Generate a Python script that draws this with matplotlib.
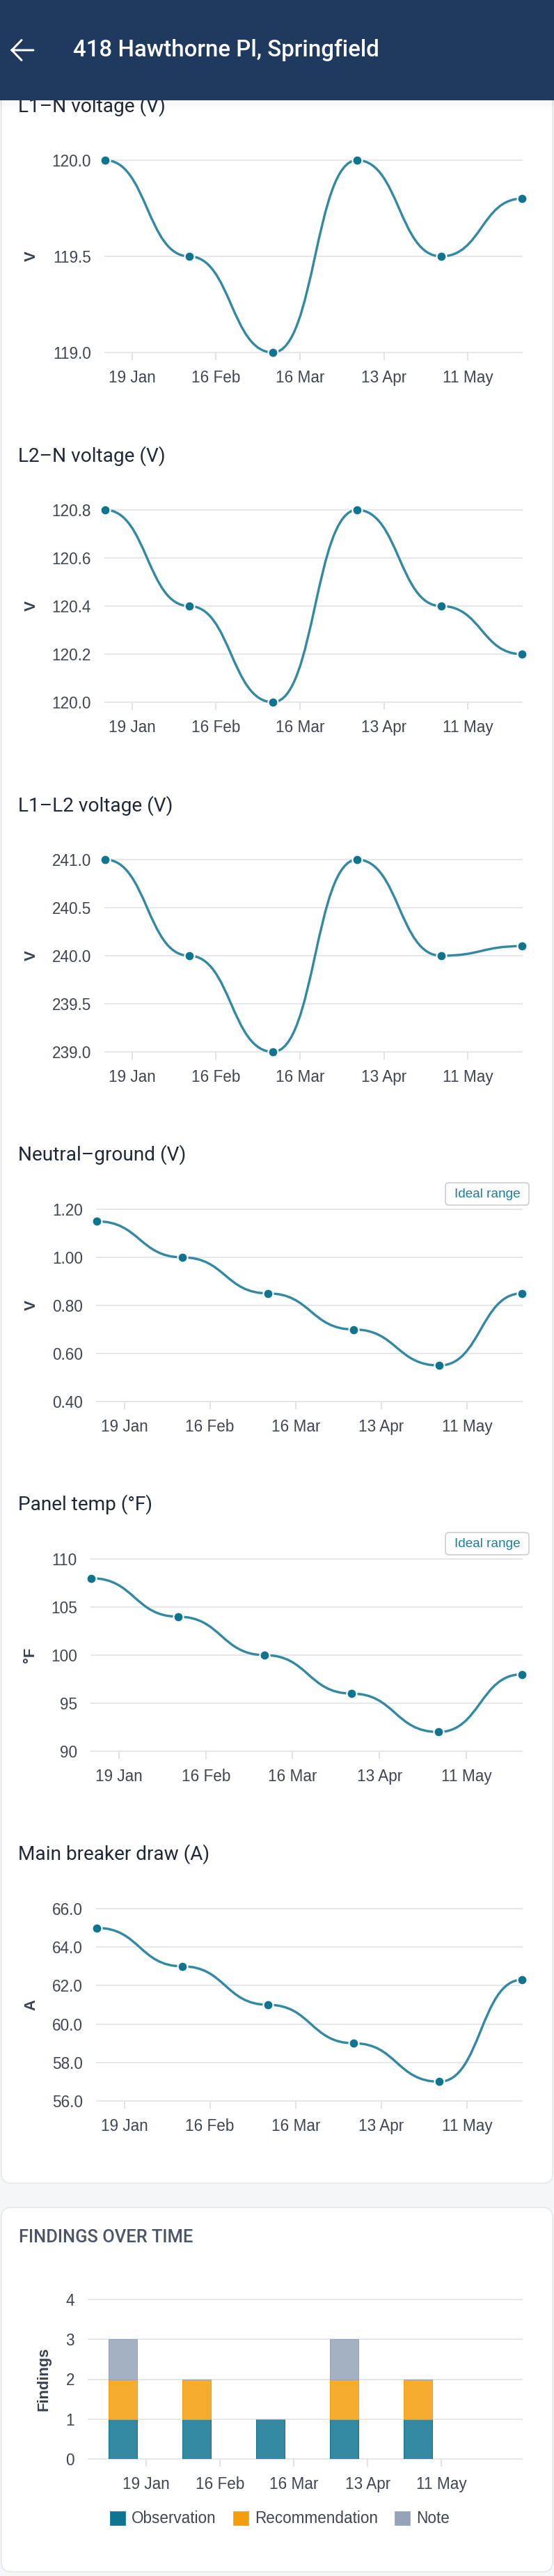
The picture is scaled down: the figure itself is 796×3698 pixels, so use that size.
import numpy as np
import matplotlib
matplotlib.use("Agg")
import matplotlib.pyplot as plt
import matplotlib.dates as mdates
from matplotlib.patches import FancyBboxPatch, Rectangle, PathPatch, Patch
from matplotlib.path import Path

# ---------------- data ----------------
dates = ["2025-01-10", "2025-02-07", "2025-03-07", "2025-04-04", "2025-05-02", "2025-05-29"]
tick_dates = ["2025-01-19", "2025-02-16", "2025-03-16", "2025-04-13", "2025-05-11"]
tick_labels = ["19 Jan", "16 Feb", "16 Mar", "13 Apr", "11 May"]

chart_titles = ["L1\u2013N voltage (V)", "L2\u2013N voltage (V)", "L1\u2013L2 voltage (V)",
                "Neutral\u2013ground (V)", "Panel temp (\u00b0F)", "Main breaker draw (A)"]
unit_labels = ["V", "V", "V", "V", "\u00b0F", "A"]

l1n = [120.0, 119.5, 119.0, 120.0, 119.5, 119.8]
l2n = [120.8, 120.4, 120.0, 120.8, 120.4, 120.2]
l1l2 = [241.0, 240.0, 239.0, 241.0, 240.0, 240.1]
neutral_ground = [1.15, 1.00, 0.85, 0.70, 0.55, 0.85]
panel_temp = [108, 104, 100, 96, 92, 98]
main_breaker = [65.0, 63.0, 61.0, 59.0, 57.0, 62.3]

yticks_l1n = [119.0, 119.5, 120.0]
yticks_l2n = [120.0, 120.2, 120.4, 120.6, 120.8]
yticks_l1l2 = [239.0, 239.5, 240.0, 240.5, 241.0]
yticks_ng = [0.40, 0.60, 0.80, 1.00, 1.20]
yticks_temp = [90, 95, 100, 105, 110]
yticks_breaker = [56.0, 58.0, 60.0, 62.0, 64.0, 66.0]

findings_series = ["Observation", "Recommendation", "Note"]
observation = [1, 1, 1, 1, 1, 0]
recommendation = [1, 1, 0, 1, 1, 0]
note = [1, 0, 0, 1, 0, 0]
yticks_findings = [0, 1, 2, 3, 4]

header_title = "418 Hawthorne Pl, Springfield"
findings_title = "FINDINGS OVER TIME"

# ---------------- style ----------------
W, H = 796, 3698
DPI = 72
PAGE_BG = "#f4f6f8"
CARD_EDGE = "#e3e6ea"
HEADER = "#1f3a5e"
LINE = "#3289a1"
MARK = "#0e7490"
GRID = "#e5e7eb"
TICKC = "#d6d9de"
TXT = "#3f4652"
TITLE = "#1f2937"
COLORS = ["#0e7490", "#f59e0b", "#94a3b8"]
FILLS = ["#3289a1", "#f6ac2f", "#a4b1c2"]

plt.rcParams["font.family"] = ["Liberation Sans", "DejaVu Sans"]
TITLE_FONT = ["Roboto", "DejaVu Sans"]

fig = plt.figure(figsize=(W / DPI, H / DPI), dpi=DPI, facecolor=PAGE_BG)

bg = fig.add_axes([0, 0, 1, 1], zorder=0)
bg.set_xlim(0, W)
bg.set_ylim(H, 0)
bg.axis("off")
bg.set_facecolor("none")


def px_axes(l, t, r, b):
    ax = fig.add_axes([l / W, 1 - b / H, (r - l) / W, (b - t) / H], zorder=2)
    ax.set_facecolor("none")
    for s in ax.spines.values():
        s.set_visible(False)
    return ax


# cards
bg.add_patch(FancyBboxPatch((2, -60), 792, 3134 + 60, boxstyle="round,pad=0,rounding_size=14",
                            fc="white", ec=CARD_EDGE, lw=1.5, zorder=1))
bg.add_patch(FancyBboxPatch((2, 3169), 792, 3692 - 3169, boxstyle="round,pad=0,rounding_size=14",
                            fc="white", ec=CARD_EDGE, lw=1.5, zorder=1))

x_dates = mdates.date2num(np.array(dates, dtype="datetime64[D]"))
x_ticks = mdates.date2num(np.array(tick_dates, dtype="datetime64[D]"))


def line_chart(box, values, yticks, fmt, unit, unit_x, title, title_y, ideal=False):
    l, t, r, b = box
    ax = px_axes(l, t, r, b)
    xs = x_dates
    ys = np.asarray(values, dtype=float)
    verts = [(xs[0], ys[0])]
    codes = [Path.MOVETO]
    for i in range(len(xs) - 1):
        xm = (xs[i] + xs[i + 1]) / 2
        verts += [(xm, ys[i]), (xm, ys[i + 1]), (xs[i + 1], ys[i + 1])]
        codes += [Path.CURVE4] * 3
    ax.add_patch(PathPatch(Path(verts, codes), fill=False, ec=LINE, lw=3.4,
                           capstyle="round", joinstyle="round", zorder=3, clip_on=False))
    ax.plot(xs, ys, "o", ms=14, mfc=MARK, mec="white", mew=2.2, zorder=4, clip_on=False)
    ax.set_xlim(xs[0], xs[-1])
    ax.set_ylim(yticks[0], yticks[-1])
    ax.set_yticks(yticks)
    ax.set_yticklabels([fmt.format(v) for v in yticks])
    ax.set_xticks(x_ticks)
    ax.set_xticklabels(tick_labels)
    ax.yaxis.grid(True, color=GRID, lw=2)
    for gl in ax.get_ygridlines():
        gl.set_clip_on(False)
    ax.set_axisbelow(True)
    ax.tick_params(axis="y", length=0, pad=20, labelsize=22.5, labelcolor=TXT)
    ax.tick_params(axis="x", length=11, width=1.5, color=TICKC, pad=14, labelsize=22.5, labelcolor=TXT)
    ax.set_ylabel(unit, fontsize=22, fontweight="bold", color="#374151")
    ax.yaxis.set_label_coords((unit_x - l) / (r - l), 0.5)
    ax.yaxis.label.set_verticalalignment("center")
    bg.text(26, title_y, title, fontsize=28, color=TITLE, family=TITLE_FONT, va="center", ha="left", zorder=3)
    if ideal:
        bt = t - 38
        bg.add_patch(FancyBboxPatch((640, bt), 120, 32, boxstyle="round,pad=0,rounding_size=5",
                                    fc="white", ec="#c6c9ce", lw=1.5, zorder=3))
        bg.text(700, bt + 16.5, "Ideal range", fontsize=19, color="#1a7f9a", ha="center", va="center", zorder=4)
    return ax


line_chart((151, 230, 750, 506), l1n, yticks_l1n, "{:.1f}", unit_labels[0], 45, chart_titles[0], 152.5)
line_chart((151, 732, 750, 1008), l2n, yticks_l2n, "{:.1f}", unit_labels[1], 45, chart_titles[1], 654.5)
line_chart((151, 1234, 750, 1510), l1l2, yticks_l1l2, "{:.1f}", unit_labels[2], 45, chart_titles[2], 1156.5)
line_chart((139, 1736, 750, 2012), neutral_ground, yticks_ng, "{:.2f}", unit_labels[3], 45, chart_titles[3], 1658, ideal=True)
line_chart((131, 2238, 750, 2514), panel_temp, yticks_temp, "{:.0f}", unit_labels[4], 43, chart_titles[4], 2160, ideal=True)
line_chart((139, 2740, 750, 3016), main_breaker, yticks_breaker, "{:.1f}", unit_labels[5], 45, chart_titles[5], 2662)

# ---------------- findings bar chart ----------------
bl, bt_, br, bb = 127, 3301, 750, 3530
axb = px_axes(bl, bt_, br, bb)
bar_w = 10.8
bottom = np.zeros(len(dates))
for name, vals, fc, ec in zip(findings_series, [observation, recommendation, note], FILLS, COLORS):
    v = np.asarray(vals, dtype=float)
    axb.bar(x_dates, v, width=bar_w, bottom=bottom, color=fc, edgecolor=ec, lw=1, zorder=3, label=name)
    bottom = bottom + v
axb.set_xlim(x_dates[0] - 13, x_dates[-1] + 12.6)
axb.set_ylim(yticks_findings[0], yticks_findings[-1])
axb.set_yticks(yticks_findings)
axb.set_yticklabels([str(v) for v in yticks_findings])
axb.set_xticks(x_ticks)
axb.set_xticklabels(tick_labels)
axb.yaxis.grid(True, color=GRID, lw=2)
for gl in axb.get_ygridlines():
    gl.set_clip_on(False)
axb.set_axisbelow(True)
axb.tick_params(axis="y", length=0, pad=20, labelsize=22.5, labelcolor=TXT)
axb.tick_params(axis="x", length=11, width=1.5, color=TICKC, pad=14, labelsize=22.5, labelcolor=TXT)
axb.set_ylabel("Findings", fontsize=22, fontweight="bold", color="#374151")
axb.yaxis.set_label_coords((63 - bl) / (br - bl), 0.5)
axb.yaxis.label.set_verticalalignment("center")

handles = [Patch(facecolor=c, edgecolor=f, lw=1) for c, f in zip(COLORS, FILLS)]
leg = axb.legend(handles, findings_series, ncol=3, loc="center",
                 bbox_to_anchor=(402 / W, 1 - 3616 / H), bbox_transform=fig.transFigure,
                 frameon=False, fontsize=22.5, handlelength=1.0, handleheight=1.0,
                 handletextpad=0.4, columnspacing=1.05, labelcolor=TXT)

bg.text(27, 3212, findings_title, fontsize=25.5, color="#4b5563", family=TITLE_FONT,
        fontweight="medium", va="center", ha="left", zorder=3)

# ---------------- header ----------------
for i in range(8):
    bg.add_patch(Rectangle((0, 144 + i * 2), W, 2, fc="black", alpha=0.035 * (1 - i / 8), lw=0, zorder=9))
bg.add_patch(Rectangle((0, 0), W, 144, fc=HEADER, lw=0, zorder=10))
arrow = Path([(17, 72), (48, 72), (17, 72), (31, 57.5), (17, 72), (31, 86.5)],
             [Path.MOVETO, Path.LINETO, Path.MOVETO, Path.LINETO, Path.MOVETO, Path.LINETO])
bg.add_patch(PathPatch(arrow, fill=False, ec="white", lw=3, capstyle="round", joinstyle="round", zorder=11))
bg.text(105, 72, header_title, fontsize=33, color="white", family=TITLE_FONT, fontweight="medium",
        va="center", ha="left", zorder=11)

fig.savefig("out.png", dpi=DPI, facecolor=fig.get_facecolor())
